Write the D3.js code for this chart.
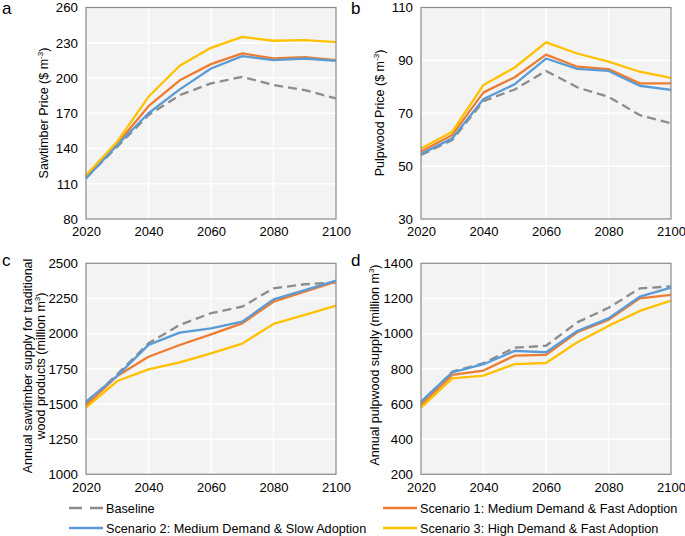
<!DOCTYPE html>
<html><head><meta charset="utf-8">
<script src="https://cdn.jsdelivr.net/npm/d3@7"></script>
<style>
body{margin:0;background:#fff;}
svg{display:block;font-family:"Liberation Sans",Arial,sans-serif;}
</style></head>
<body>
<svg id="chart" width="685" height="536"></svg>
<script>
const years = [2020,2030,2040,2050,2060,2070,2080,2090,2100];
const seriesNames = ["Baseline","Scenario 1: Medium Demand & Fast Adoption","Scenario 2: Medium Demand & Slow Adoption","Scenario 3: High Demand & Fast Adoption"];
// Panel a: Sawtimber price
const sawPriceBaseline = [115,141.5,168.4,185.4,195.4,201,194,189.7,182.6];
const sawPriceS1 = [116,144,176,198,211.8,220.9,216.6,217.8,215.2];
const sawPriceS2 = [114.6,143,170,190.3,208.1,218.6,215.2,216.6,214.6];
const sawPriceS3 = [117.4,145.8,184,210.4,225.7,235,231.7,232.2,230.5];
// Panel b: Pulpwood price
const pulpPriceBaseline = [54.2,59.9,74.6,79,86,79.8,76.2,69.3,66.2];
const pulpPriceS1 = [55.5,61.8,77.9,83.6,92.2,87.6,86.7,81.3,81.3];
const pulpPriceS2 = [54.6,60.5,75.4,81,90.7,86.8,86,80.4,78.8];
const pulpPriceS3 = [56.7,63,80.7,87.3,96.8,92.6,89.5,85.7,83.4];
// Panel c: sawtimber supply
const sawSupplyBaseline = [1505,1711,1931,2062,2145,2192,2322,2351,2363];
const sawSupplyS1 = [1488,1699,1836,1919,1995,2073,2227,2299,2370];
const sawSupplyS2 = [1517,1700,1920,2007,2038,2085,2244,2310,2377];
const sawSupplyS3 = [1474,1663,1746,1796,1860,1929,2069,2133,2199];
// Panel d: pulpwood supply
const pulpSupplyBaseline = [603,784,832,920,931,1064,1147,1257,1269];
const pulpSupplyS1 = [594,765,790,875,879,1008,1078,1201,1220];
const pulpSupplyS2 = [613,780,826,902,894,1015,1087,1210,1262];
const pulpSupplyS3 = [579,746,761,827,833,951,1044,1129,1188];

const xTicks = [2020,2040,2060,2080,2100];
const ticksA = [80,110,140,170,200,230,260];
const ticksB = [30,50,70,90,110];
const ticksC = [1000,1250,1500,1750,2000,2250,2500];
const ticksD = [200,400,600,800,1000,1200,1400];

const colors = ["#8c8c8c","#ED7D31","#5B9BD5","#FFC000"];
const dashes = ["9,5",null,null,null];

const svg = d3.select("#chart");

const panels = [
  {letter:"a", x0:86, x1:336, y0:7.5, y1:219, ticks:ticksA, data:[sawPriceBaseline,sawPriceS1,sawPriceS2,sawPriceS3],
   labelLines:[["Sawtimber Price ($ m","-3",")"]], labelX:[48], labelY:113, letterX:2, letterY:14},
  {letter:"b", x0:421, x1:671, y0:7.5, y1:219, ticks:ticksB, data:[pulpPriceBaseline,pulpPriceS1,pulpPriceS2,pulpPriceS3],
   labelLines:[["Pulpwood Price ($ m","-3",")"]], labelX:[384], labelY:113, letterX:351, letterY:14},
  {letter:"c", x0:86, x1:336, y0:263.3, y1:474.3, ticks:ticksC, data:[sawSupplyBaseline,sawSupplyS1,sawSupplyS2,sawSupplyS3],
   labelLines:[["Annual sawtimber supply for traditional"],["wood products (million m","3",")"]], labelX:[32,45], labelY:366, letterX:2, letterY:266},
  {letter:"d", x0:421, x1:671, y0:263.3, y1:474.3, ticks:ticksD, data:[pulpSupplyBaseline,pulpSupplyS1,pulpSupplyS2,pulpSupplyS3],
   labelLines:[["Annual pulpwood supply (million m","3",")"]], labelX:[379], labelY:365, letterX:351, letterY:266}
];

function addLabelText(sel, parts){
  sel.append("tspan").text(parts[0]);
  if(parts.length>1){
    sel.append("tspan").attr("dy",-5).attr("font-size",8).text(parts[1]);
    sel.append("tspan").attr("dy",5).text(parts[2]);
  }
}

panels.forEach(p=>{
  const x = d3.scaleLinear().domain([2020,2100]).range([p.x0,p.x1]);
  const y = d3.scaleLinear().domain([p.ticks[0],p.ticks[p.ticks.length-1]]).range([p.y1,p.y0]);
  const g = svg.append("g");
  g.append("rect").attr("x",p.x0).attr("y",p.y0).attr("width",p.x1-p.x0).attr("height",p.y1-p.y0).attr("fill","#f3f3f3");
  // grid
  g.append("g").selectAll("line").data(p.ticks.slice(1,-1)).join("line")
    .attr("x1",p.x0).attr("x2",p.x1).attr("y1",d=>y(d)).attr("y2",d=>y(d))
    .attr("stroke","#fff").attr("stroke-width",1.5);
  g.append("g").selectAll("line").data(xTicks.slice(1,-1)).join("line")
    .attr("y1",p.y0).attr("y2",p.y1).attr("x1",d=>x(d)).attr("x2",d=>x(d))
    .attr("stroke","#fff").attr("stroke-width",1.5);
  // axes (labels only)
  const yAxis = d3.axisLeft(y).tickValues(p.ticks).tickFormat(d3.format("d")).tickSize(0).tickPadding(8);
  const ya = g.append("g").attr("transform",`translate(${p.x0},0)`).call(yAxis);
  ya.select(".domain").remove();
  ya.selectAll("text").attr("font-size",13.3).attr("fill","#000").attr("font-family","Liberation Sans, Arial, sans-serif");
  const xAxis = d3.axisBottom(x).tickValues(xTicks).tickFormat(d3.format("d")).tickSize(0).tickPadding(8);
  const xa = g.append("g").attr("transform",`translate(0,${p.y1})`).call(xAxis);
  xa.select(".domain").remove();
  xa.selectAll("text").attr("font-size",13).attr("fill","#000").attr("font-family","Liberation Sans, Arial, sans-serif");
  // lines
  const line = d3.line().x((d,i)=>x(years[i])).y(d=>y(d));
  p.data.forEach((arr,k)=>{
    const path = g.append("path").datum(arr).attr("d",line).attr("fill","none")
      .attr("stroke",colors[k]).attr("stroke-width",2.3).attr("stroke-linejoin","round");
    if(dashes[k]) path.attr("stroke-dasharray",dashes[k]);
  });
  // border
  g.append("rect").attr("x",p.x0).attr("y",p.y0).attr("width",p.x1-p.x0).attr("height",p.y1-p.y0)
    .attr("fill","none").attr("stroke","#8a8a8a").attr("stroke-width",1.2);
  // y title
  p.labelLines.forEach((parts,i)=>{
    const t = g.append("text").attr("transform",`translate(${p.labelX[i]},${p.labelY}) rotate(-90)`)
      .attr("text-anchor","middle").attr("font-size",12.5).attr("fill","#000");
    addLabelText(t, parts);
  });
  g.append("text").attr("x",p.letterX).attr("y",p.letterY).attr("font-size",17).attr("fill","#000").text(p.letter);
});

// legend
const legendPos = [[69,508],[383,508],[69,528],[383,528]];
const lg = svg.append("g");
seriesNames.forEach((name,k)=>{
  const [lx,ly] = legendPos[k];
  const l = lg.append("line").attr("x1",lx).attr("x2",lx+34).attr("y1",ly).attr("y2",ly)
    .attr("stroke",colors[k]).attr("stroke-width",2.3);
  if(dashes[k]) l.attr("stroke-dasharray","13,8");
  lg.append("text").attr("x",lx+37).attr("y",ly+4.5).attr("font-size",12.7).attr("fill","#000").text(name);
});
</script>
</body></html>
